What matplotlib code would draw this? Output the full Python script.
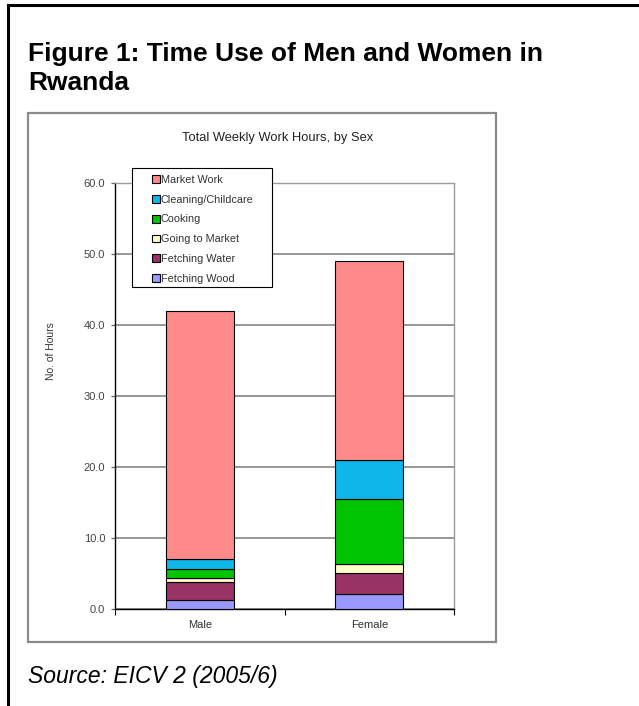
import numpy as np
import matplotlib
matplotlib.use("Agg")
import matplotlib.pyplot as plt
from matplotlib.patches import Rectangle
from matplotlib.lines import Line2D

plt.rcParams['font.family'] = ['Liberation Sans', 'DejaVu Sans']

# weekly hours by activity, stacked bottom to top
sexes = ["Male", "Female"]
activities = ["Fetching Wood", "Fetching Water", "Going to Market",
              "Cooking", "Cleaning/Childcare", "Market Work"]
fetching_wood = [1.3, 2.1]
fetching_water = [2.5, 3.0]
going_to_market = [0.5, 1.2]
cooking = [1.4, 9.2]
cleaning_childcare = [1.3, 5.5]
market_work = [35.0, 28.0]
colors = ["#9999FF", "#993366", "#FFFFCC", "#00C400", "#0FB6EA", "#FF8A8A"]

series = [fetching_wood, fetching_water, going_to_market,
          cooking, cleaning_childcare, market_work]

W, H = 639, 706
fig = plt.figure(figsize=(W / 100, H / 100), dpi=100)

def fx(px):
    return px / W

def fy(py):
    return 1 - py / H

# outer frame (top and left rules only)
fig.add_artist(Line2D([fx(8), 1], [fy(5), fy(5)], color="black", lw=2.2))
fig.add_artist(Line2D([fx(8), fx(8)], [fy(5), 0], color="black", lw=2.2))

fig.text(fx(28), fy(90), "Figure 1: Time Use of Men and Women in\nRwanda",
         fontsize=19, fontweight="bold", va="baseline", ha="left",
         linespacing=1.25)
fig.text(fx(28), fy(683), "Source: EICV 2 (2005/6)", fontsize=16.5,
         style="italic", va="baseline", ha="left")

# chart area box
fig.add_artist(Rectangle((fx(28), fy(642)), fx(468), 529 / H,
                         transform=fig.transFigure, fill=False,
                         edgecolor="#8a8a8a", lw=1.6))

ax = fig.add_axes([fx(115), fy(609), fx(339), (609 - 183) / H])
x = np.arange(len(sexes))
bottom = np.zeros(len(sexes))
handles = {}
for name, vals, c in zip(activities, series, colors):
    b = ax.bar(x, vals, width=0.4, bottom=bottom, color=c,
               edgecolor="black", linewidth=0.8, label=name, zorder=3)
    handles[name] = b
    bottom += np.array(vals)

ax.set_xlim(-0.5, 1.5)
ax.set_ylim(0, 60)
ax.set_yticks(np.arange(0, 61, 10))
ax.set_yticklabels([f"{v:.1f}" for v in np.arange(0, 61, 10)])
ax.yaxis.grid(True, color="#858585", lw=1.2, zorder=0)
ax.set_xticks(x)
ax.set_xticklabels(sexes)
ax.set_xticks([-0.5, 0.5, 1.5], minor=True)
ax.tick_params(axis="x", which="major", length=0, pad=8,
               labelsize=8, labelcolor="#333333")
ax.tick_params(axis="x", which="minor", length=4, color="black", width=0.8)
ax.tick_params(axis="y", length=3, color="#666666", width=0.9,
               labelsize=8, labelcolor="#444444", pad=4)
for s in ["left", "bottom"]:
    ax.spines[s].set_color("black")
    ax.spines[s].set_linewidth(1.0)
for s in ["right", "top"]:
    ax.spines[s].set_color("#9a9a9a")
    ax.spines[s].set_linewidth(1.0)

fig.text(fx(51), fy(351), "No. of Hours", fontsize=7.5, color="#333333",
         rotation=90, ha="center", va="center")

fig.text(fx(278), fy(138), "Total Weekly Work Hours, by Sex", fontsize=9.3,
         color="#222222", ha="center", va="center")

# legend frame drawn separately so the entries sit inset from its left edge
leg_frame = Rectangle((fx(132), fy(287)), fx(140), 119 / H,
                      transform=fig.transFigure, facecolor="white",
                      edgecolor="black", lw=0.8, zorder=4)
fig.add_artist(leg_frame)

order = activities[::-1]
leg = fig.legend([handles[n] for n in order], order,
                 bbox_to_anchor=(fx(152), fy(175)), loc="upper left",
                 fontsize=7.8, frameon=False,
                 handlelength=0.7, handleheight=0.7,
                 handletextpad=0.1, labelspacing=0.9, borderpad=0,
                 borderaxespad=0)
leg.set_zorder(5)
for t in leg.get_texts():
    t.set_color("#333333")

fig.savefig("out.png", dpi=100)
